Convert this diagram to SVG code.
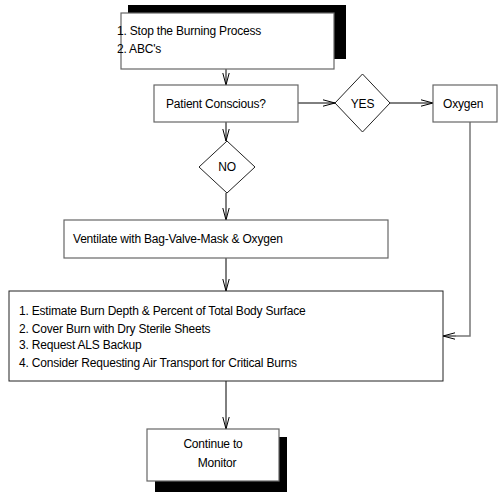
<svg xmlns="http://www.w3.org/2000/svg" width="498" height="493" viewBox="0 0 498 493">
<style>
  .box { fill: #fff; stroke: #666; stroke-width: 1.2; }
  .bigbox { fill: #fff; stroke: #222; stroke-width: 1; }
  .shadow { fill: #000; }
  .dia { fill: #fff; stroke: #222; stroke-width: 1; }
  .t { font-family: "Liberation Sans", Arial, sans-serif; font-size: 12px; fill: #000; letter-spacing: -0.2px; }
  .c { stroke: #000; stroke-width: 1; fill: none; }
  .cg { stroke: #777; stroke-width: 1.5; fill: none; }
</style>
<defs>
  <marker id="arr" markerUnits="userSpaceOnUse" markerWidth="14" markerHeight="10" refX="12" refY="4" orient="auto">
    <path d="M0,0.8 L12,4 L0,7.2" fill="none" stroke="#000" stroke-width="1"/>
  </marker>
</defs>
<rect width="498" height="493" fill="#fff"/>

<g id="connectors">
  <line class="c" x1="226" y1="69" x2="226" y2="85" marker-end="url(#arr)"/>
  <line class="c" x1="298" y1="103" x2="335" y2="103" marker-end="url(#arr)"/>
  <line class="c" x1="390" y1="103" x2="433" y2="103" marker-end="url(#arr)"/>
  <line class="c" x1="226" y1="122" x2="226" y2="141" marker-end="url(#arr)"/>
  <line class="c" x1="226" y1="193" x2="226" y2="220" marker-end="url(#arr)"/>
  <line class="c" x1="226" y1="258" x2="226" y2="291" marker-end="url(#arr)"/>
  <polyline class="cg" points="470,122 470,336 456,336"/>
  <line class="c" x1="456" y1="336" x2="443" y2="336" marker-end="url(#arr)"/>
  <line class="c" x1="226" y1="381" x2="226" y2="429" marker-end="url(#arr)"/>
</g>

<g id="n-stop">
  <rect class="shadow" x="128" y="5" width="218" height="54"/>
  <rect class="box" x="121" y="13" width="213" height="56"/>
  <text class="t" x="117" y="35">1. Stop the Burning Process</text>
  <text class="t" x="117" y="53">2. ABC's</text>
</g>

<g id="n-patient">
  <rect class="box" x="154" y="85" width="144" height="37"/>
  <text class="t" x="166" y="108">Patient Conscious?</text>
</g>

<g id="n-yes">
  <polygon class="dia" points="362.5,74 390,103 362.5,132 335,103"/>
  <text class="t" x="362.5" y="108" text-anchor="middle">YES</text>
</g>

<g id="n-oxygen">
  <rect class="box" x="433" y="85" width="64" height="37"/>
  <text class="t" x="443" y="108">Oxygen</text>
</g>

<g id="n-no">
  <polygon class="dia" points="227,141 255,167 227,193 199,167"/>
  <text class="t" x="227" y="171" text-anchor="middle">NO</text>
</g>

<g id="n-ventilate">
  <rect class="box" x="64" y="220" width="324" height="38"/>
  <text class="t" x="73" y="243">Ventilate with Bag-Valve-Mask &amp; Oxygen</text>
</g>

<g id="n-estimate">
  <rect class="bigbox" x="9" y="291" width="434" height="90"/>
  <text class="t" x="19" y="315">1. Estimate Burn Depth &amp; Percent of Total Body Surface</text>
  <text class="t" x="19" y="333">2. Cover Burn with Dry Sterile Sheets</text>
  <text class="t" x="19" y="349">3. Request ALS Backup</text>
  <text class="t" x="19" y="367">4. Consider Requesting Air Transport for Critical Burns</text>
</g>

<g id="n-monitor">
  <rect class="shadow" x="155" y="437" width="132" height="55"/>
  <rect class="box" x="147" y="429" width="132" height="52"/>
  <text class="t" x="213" y="448" text-anchor="middle">Continue to</text>
  <text class="t" x="217" y="467" text-anchor="middle">Monitor</text>
</g>
</svg>
